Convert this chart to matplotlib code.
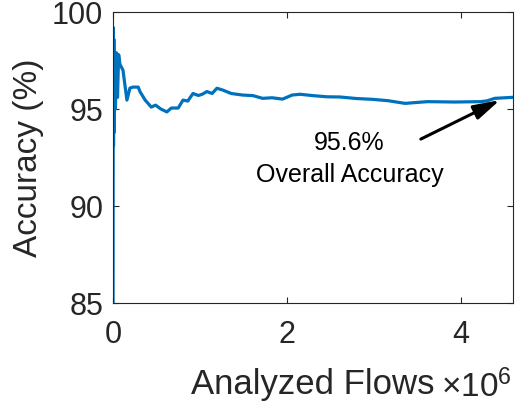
import numpy as np
import matplotlib
matplotlib.use("Agg")
import matplotlib.pyplot as plt

plt.rcParams["font.family"] = ["Liberation Sans", "DejaVu Sans"]
plt.rcParams["mathtext.fontset"] = "custom"
plt.rcParams["mathtext.rm"] = "Liberation Sans"

# running accuracy over analyzed flows (flows in millions)
flows_m = [0.000, 0.003, 0.006, 0.010, 0.014, 0.020, 0.028, 0.040, 0.052, 0.065,
           0.080, 0.115, 0.160, 0.195, 0.230, 0.290, 0.310, 0.370, 0.440, 0.490,
           0.550, 0.620, 0.670, 0.750, 0.805, 0.860, 0.920, 0.980, 1.000, 1.030,
           1.080, 1.140, 1.195, 1.260, 1.360, 1.490, 1.610, 1.720, 1.830, 1.950,
           2.060, 2.150, 2.300, 2.460, 2.610, 2.800, 2.980, 3.160, 3.360, 3.470,
           3.620, 3.930, 4.230, 4.300, 4.390, 4.590]
accuracy = [80.0, 99.2, 93.1, 98.6, 93.8, 97.6, 95.0, 97.9, 95.6, 97.8,
            97.3, 97.0, 95.46, 96.08, 96.13, 96.13, 95.9, 95.46, 95.1, 95.2,
            95.0, 94.85, 95.05, 95.05, 95.46, 95.41, 95.8, 95.7, 95.72, 95.77,
            95.9, 95.8, 96.07, 95.98, 95.8, 95.72, 95.69, 95.55, 95.58, 95.51,
            95.72, 95.76, 95.69, 95.63, 95.62, 95.54, 95.5, 95.43, 95.29, 95.33,
            95.38, 95.36, 95.38, 95.42, 95.55, 95.6]

x_ticks = [0, 2, 4]
y_ticks = [85, 90, 95, 100]

axis_color = "#262626"

fig = plt.figure(figsize=(5.15, 4.03), dpi=100)
ax = fig.add_axes([0.2194, 0.2481, 0.7767, 0.7221])

ax.plot(flows_m, accuracy, color="#0072BD", lw=2.3)

ax.set_xlim(0, 4.6)
ax.set_ylim(85, 100)
ax.set_xticks(x_ticks)
ax.set_yticks(y_ticks)
ax.tick_params(axis="both", direction="in", top=True, right=True, length=4,
               width=0.8, colors=axis_color, labelsize=22)
ax.tick_params(axis="x", pad=12)
ax.tick_params(axis="y", pad=7)
for sp in ax.spines.values():
    sp.set_color(axis_color)
    sp.set_linewidth(0.8)

ax.set_xlabel("Analyzed Flows", fontsize=25, color=axis_color, labelpad=13)
ax.set_ylabel("Accuracy (%)", fontsize=24, color=axis_color, labelpad=6)
fig.text(0.994, 0.015, r"$\times\mathregular{10^{6}}$", fontsize=24,
         color=axis_color, ha="right", va="baseline")

# callout for the final value
ax.annotate("", xy=(4.45, 95.46), xytext=(3.54, 93.45),
            arrowprops=dict(arrowstyle="-|>,head_length=1.6,head_width=0.45",
                            color="k", lw=2.2, mutation_scale=10,
                            shrinkA=0, shrinkB=0))
ax.text(2.72, 92.42, f"{accuracy[-1]:.1f}%\nOverall Accuracy", fontsize=18,
        ha="center", va="center", linespacing=1.45)

fig.savefig("out.png", dpi=100)
